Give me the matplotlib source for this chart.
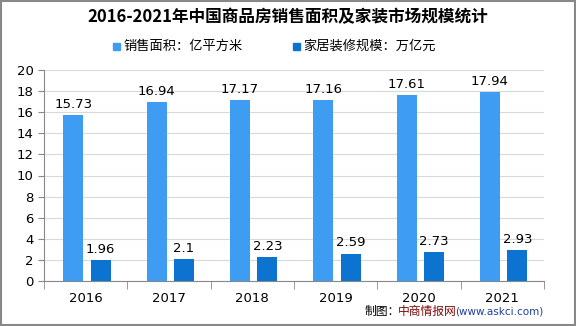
import numpy as np
import matplotlib.pyplot as plt
from matplotlib.patches import Rectangle

plt.rcParams['font.family'] = ['Noto Sans CJK SC', 'DejaVu Sans']

years = ['2016', '2017', '2018', '2019', '2020', '2021']
area = [15.73, 16.94, 17.17, 17.16, 17.61, 17.94]
decor = [1.96, 2.1, 2.23, 2.59, 2.73, 2.93]
area_labels = ['15.73', '16.94', '17.17', '17.16', '17.61', '17.94']
decor_labels = ['1.96', '2.1', '2.23', '2.59', '2.73', '2.93']

c1 = '#3E9DF2'
c2 = '#0C74D0'

fig = plt.figure(figsize=(5.76, 3.26), dpi=100)
W, H = 576, 326
ax = fig.add_axes([44 / W, 1 - 281 / H, (544 - 44) / W, (281 - 70) / H])

x = np.arange(len(years))
bw = 0.24
b1 = ax.bar(x - 0.15, area, bw, color=c1, zorder=3)
b2 = ax.bar(x + 0.18, decor, bw, color=c2, zorder=3)
for rect, lab in zip(b1, area_labels):
    ax.text(rect.get_x() + rect.get_width() / 2, rect.get_height() + 0.4, lab,
            ha='center', va='bottom', fontsize=9.5, family='DejaVu Sans')
for rect, lab in zip(b2, decor_labels):
    ax.text(rect.get_x() + rect.get_width() / 2, rect.get_height() + 0.4, lab,
            ha='center', va='bottom', fontsize=9.5, family='DejaVu Sans')

ax.set_xlim(-0.5, len(years) - 0.5)
ax.set_ylim(0, 20)
ax.set_yticks(range(0, 21, 2))
ax.yaxis.grid(True, color='#D9D9D9', linewidth=0.8, zorder=0)
ax.set_xticks(x)
ax.set_xticklabels(years, family='DejaVu Sans', fontsize=9.5)
ax.set_xticks(np.arange(-0.5, len(years), 1), minor=True)
ax.tick_params(axis='x', which='major', length=0, pad=8)
ax.tick_params(axis='x', which='minor', length=6, color='#888888')
ax.tick_params(axis='y', length=4, color='#888888', labelsize=9.5)
for lab in ax.get_yticklabels():
    lab.set_family('DejaVu Sans')
for s in ['top', 'right']:
    ax.spines[s].set_visible(False)
ax.spines['left'].set_color('#888888')
ax.spines['bottom'].set_color('#888888')

fig.text(0.5, 1 - 17 / H, '2016-2021年中国商品房销售面积及家装市场规模统计',
         ha='center', va='center', fontsize=12, fontweight='bold')

# legend
fig.patches.append(Rectangle((113 / W, 1 - 50 / H), 7 / W, 7 / H,
                             transform=fig.transFigure, color=c1))
fig.text(123 / W, 1 - 46 / H, '销售面积：亿平方米', va='center', fontsize=9.5)
fig.patches.append(Rectangle((293 / W, 1 - 50 / H), 7 / W, 7 / H,
                             transform=fig.transFigure, color=c2))
fig.text(303 / W, 1 - 46 / H, '家居装修规模：万亿元', va='center', fontsize=9.5)

# source
fig.text(365 / W, 1 - 311 / H, '制图：', va='center', fontsize=8.5)
fig.text(398 / W, 1 - 311 / H, '中商情报网', va='center', fontsize=8.5, color='#7A0A0A')
fig.text(543 / W, 1 - 311 / H, '(www.askci.com)', va='center', ha='right',
         fontsize=7.5, color='#1F3FA0', family='DejaVu Sans')

fig.patches.append(Rectangle((0.001, 0.002), 0.997, 0.995, transform=fig.transFigure,
                             fill=False, edgecolor='#888888', linewidth=1.5))

fig.savefig('out.png', dpi=100)
